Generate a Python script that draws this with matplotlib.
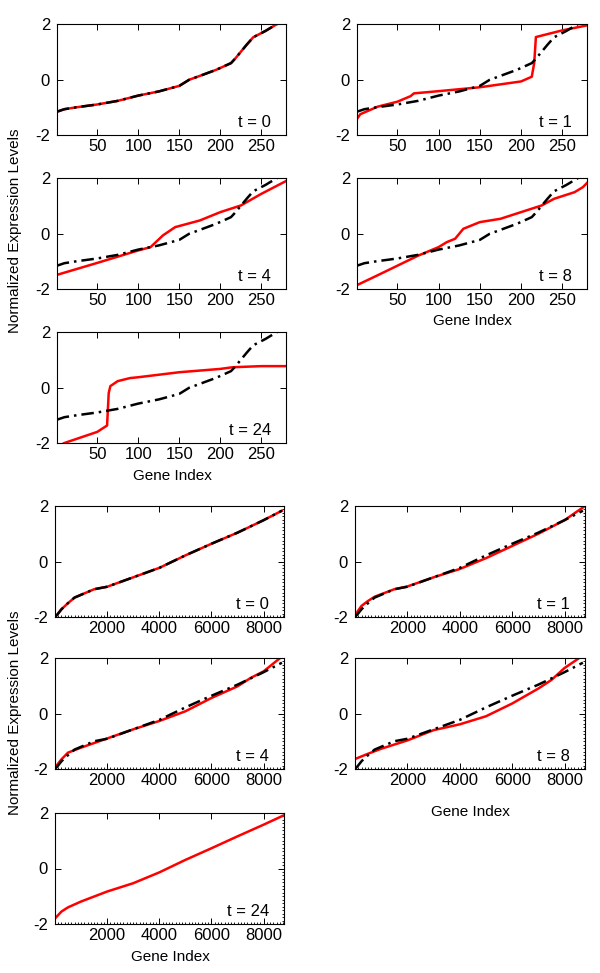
import matplotlib
matplotlib.use("Agg")
import matplotlib.pyplot as plt
from matplotlib.ticker import MultipleLocator, FixedLocator

plt.rcParams['font.family'] = ['Liberation Sans', 'DejaVu Sans']
plt.rcParams['axes.unicode_minus'] = False

# ---------------- data: top group (280 genes) ----------------
top_ref_x = [1, 10, 25, 50, 75, 100, 125, 150, 162, 175, 195, 213, 218, 225, 232, 240, 255, 268, 280]
top_ref_y = [-1.16, -1.07, -1.0, -0.9, -0.77, -0.58, -0.43, -0.23, -0.01, 0.13, 0.35, 0.59, 0.75, 1.0, 1.25, 1.52, 1.75, 1.98, 2.2]

top_t0_x = top_ref_x
top_t0_y = top_ref_y

top_t1_x = [1, 5, 26, 50, 66, 70, 100, 150, 200, 213, 216, 218, 230, 250, 280]
top_t1_y = [-1.42, -1.25, -0.98, -0.8, -0.6, -0.5, -0.42, -0.28, -0.07, 0.1, 0.6, 1.53, 1.62, 1.77, 1.95]

top_t4_x = [1, 50, 100, 115, 130, 145, 175, 200, 225, 250, 280]
top_t4_y = [-1.49, -1.06, -0.61, -0.49, -0.07, 0.23, 0.47, 0.77, 1.01, 1.43, 1.89]

top_t8_x = [1, 25, 50, 75, 100, 110, 120, 130, 140, 150, 175, 200, 225, 240, 265, 275, 280]
top_t8_y = [-1.86, -1.52, -1.16, -0.8, -0.49, -0.31, -0.19, 0.17, 0.29, 0.41, 0.53, 0.77, 1.01, 1.25, 1.49, 1.67, 1.82]

top_t24_x = [1, 10, 25, 50, 62, 64, 66, 75, 90, 100, 150, 200, 215, 250, 280]
top_t24_y = [-2.15, -2.0, -1.85, -1.6, -1.37, -0.2, 0.05, 0.23, 0.34, 0.37, 0.55, 0.67, 0.73, 0.77, 0.77]

# ---------------- data: bottom group (~8780 genes) ----------------
bot_ref_x = [1, 100, 250, 500, 750, 1000, 1500, 2000, 3000, 4000, 5000, 6000, 7000, 8000, 8700]
bot_ref_y = [-2.0, -1.9, -1.72, -1.5, -1.3, -1.2, -1.0, -0.91, -0.57, -0.23, 0.22, 0.64, 1.04, 1.49, 1.83]

bot_t0_x = bot_ref_x
bot_t0_y = bot_ref_y

bot_t1_x = [1, 100, 250, 500, 750, 1500, 2000, 3000, 4000, 5000, 6000, 7000, 8000, 8780]
bot_t1_y = [-2.0, -1.8, -1.6, -1.42, -1.27, -1.0, -0.9, -0.57, -0.27, 0.12, 0.56, 1.0, 1.49, 2.0]

bot_t4_x = [1, 250, 500, 1000, 2000, 3000, 4000, 5000, 6000, 7000, 7500, 8000, 8500, 8700]
bot_t4_y = [-1.95, -1.65, -1.41, -1.23, -0.9, -0.57, -0.27, 0.08, 0.56, 0.98, 1.28, 1.52, 1.9, 2.05]

bot_t8_x = [1, 500, 1000, 2000, 3000, 4000, 5000, 6000, 7000, 7500, 8000, 8500, 8780]
bot_t8_y = [-1.64, -1.45, -1.27, -0.97, -0.6, -0.39, -0.1, 0.36, 0.9, 1.21, 1.64, 1.96, 2.15]

bot_t24_x = [1, 250, 500, 1000, 2000, 3000, 4000, 5000, 6000, 7000, 8000, 8780]
bot_t24_y = [-1.8, -1.55, -1.4, -1.19, -0.83, -0.53, -0.14, 0.31, 0.73, 1.16, 1.58, 1.92]

time_labels = ['t = 0', 't = 1', 't = 4', 't = 8', 't = 24']
top_series = [(top_t0_x, top_t0_y), (top_t1_x, top_t1_y), (top_t4_x, top_t4_y),
              (top_t8_x, top_t8_y), (top_t24_x, top_t24_y)]
bot_series = [(bot_t0_x, bot_t0_y), (bot_t1_x, bot_t1_y), (bot_t4_x, bot_t4_y),
              (bot_t8_x, bot_t8_y), (bot_t24_x, bot_t24_y)]
top_xticks = [50, 100, 150, 200, 250]
bot_xticks = [2000, 4000, 6000, 8000]
yticks = [-2, 0, 2]
show_ref_bottom = [True, True, True, True, False]

W, H = 600, 973
fig = plt.figure(figsize=(W / 100, H / 100), dpi=100)

def add_ax(l, t, w, h):
    return fig.add_axes([l / W, 1 - (t + h) / H, w / W, h / H])

top_pos = [(57, 24), (357, 24), (57, 178), (357, 178), (57, 332)]
bot_pos = [(55, 506), (355, 506), (55, 658), (355, 658), (55, 813)]
PW, PH = 229, 111

DASH = (0, (5, 2, 1, 2))

def style(ax, xlim, xticks, minor=False):
    ax.set_xlim(*xlim)
    ax.set_ylim(-2, 2)
    ax.xaxis.set_major_locator(FixedLocator(xticks))
    ax.yaxis.set_major_locator(FixedLocator(yticks))
    ax.tick_params(which='major', direction='in', length=4, width=0.7,
                   top=True, right=True, labelsize=12)
    ax.tick_params(axis='x', which='major', pad=3)
    ax.tick_params(axis='y', which='major', pad=5)
    if minor:
        ax.xaxis.set_minor_locator(MultipleLocator(125))
        ax.yaxis.set_minor_locator(MultipleLocator(0.125))
        ax.tick_params(which='minor', direction='in', length=1.5, width=0.6,
                       top=False, right=True, left=False, bottom=True)
    for s in ax.spines.values():
        s.set_linewidth(0.8)

for i, ((xs, ys), (l, t)) in enumerate(zip(top_series, top_pos)):
    ax = add_ax(l, t, PW + (1 if i % 2 else 0), PH)
    ax.plot(xs, ys, color='#ff0000', lw=1.8, solid_joinstyle='round')
    ax.plot(top_ref_x, top_ref_y, color='black', lw=1.8, linestyle=DASH)
    style(ax, (1, 280), top_xticks)
    ax.text(0.935, 0.075, time_labels[i], transform=ax.transAxes,
            ha='right', va='baseline', fontsize=12)

for i, ((xs, ys), (l, t)) in enumerate(zip(bot_series, bot_pos)):
    ax = add_ax(l, t, PW + (1 if i % 2 else 0), PH)
    ax.plot(xs, ys, color='#ff0000', lw=1.8, solid_joinstyle='round')
    if show_ref_bottom[i]:
        ax.plot(bot_ref_x, bot_ref_y, color='black', lw=1.8, linestyle=DASH)
    style(ax, (1, 8780), bot_xticks, minor=True)
    ax.text(0.935, 0.075, time_labels[i], transform=ax.transAxes,
            ha='right', va='baseline', fontsize=12)

# axis labels
fig.text(15 / W, 1 - 231 / H, 'Normalized Expression Levels', rotation=90,
         ha='center', va='center', fontsize=11)
fig.text(15 / W, 1 - 713 / H, 'Normalized Expression Levels', rotation=90,
         ha='center', va='center', fontsize=11)
fig.text(472 / W, 1 - 321 / H, 'Gene Index', ha='center', va='center', fontsize=11)
fig.text(172 / W, 1 - 476 / H, 'Gene Index', ha='center', va='center', fontsize=11)
fig.text(470 / W, 1 - 812 / H, 'Gene Index', ha='center', va='center', fontsize=11)
fig.text(170 / W, 1 - 957 / H, 'Gene Index', ha='center', va='center', fontsize=11)

fig.savefig('out.png', dpi=100)
